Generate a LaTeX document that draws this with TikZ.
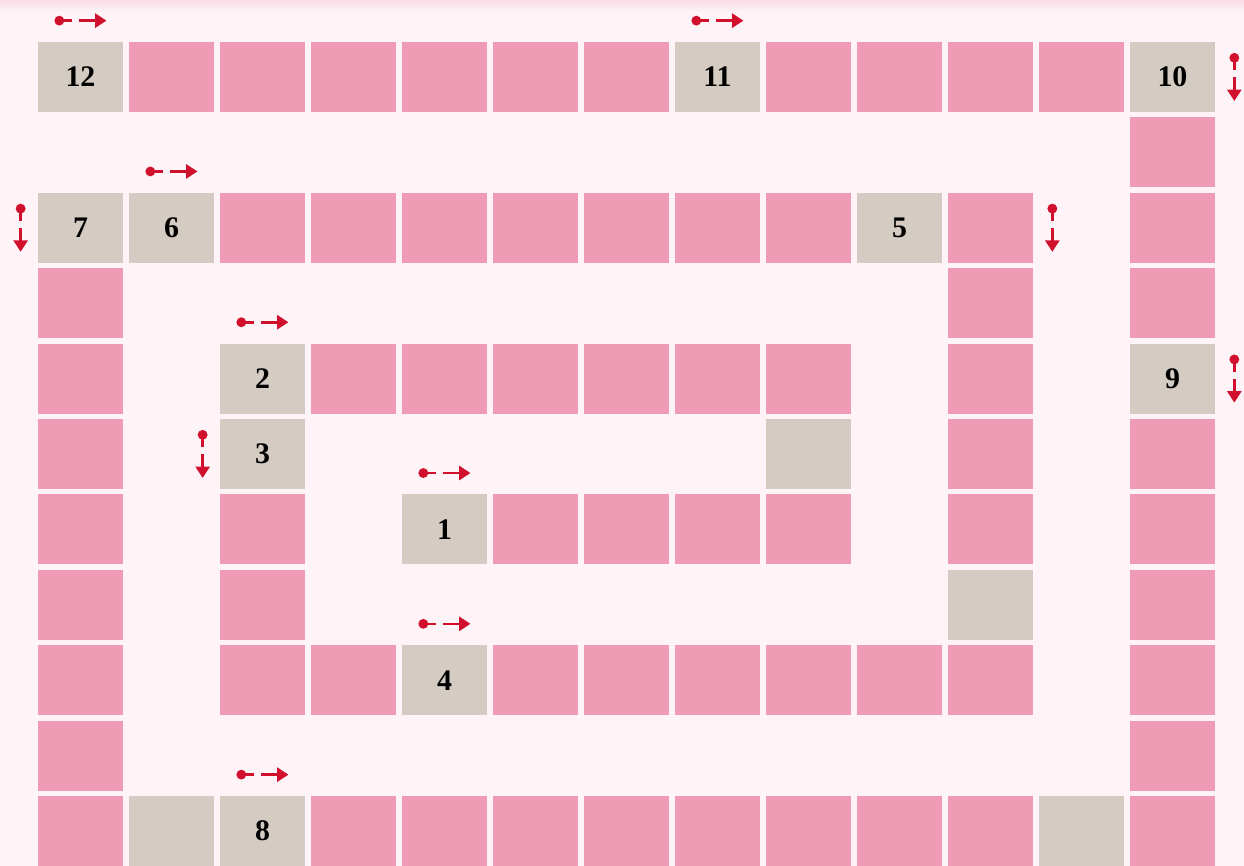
\documentclass[tikz,border=0pt]{standalone}
\usepackage{fontspec}
\setmainfont{Liberation Serif}
\usetikzlibrary{arrows.meta}

\definecolor{tilepink}{HTML}{F09BB5}
\definecolor{tilegray}{HTML}{D4CBC2}
\definecolor{markred}{HTML}{D0102C}
\definecolor{boardbg}{HTML}{FEF4F7}
\definecolor{boardtop}{HTML}{FADCE6}

\begin{document}
\begin{tikzpicture}[
        x=1.82cm, y=-1.508cm,
        tile/.style={minimum width=1.7cm, minimum height=1.4cm, inner sep=0pt},
        pinktile/.style={tile, fill=tilepink},
        graytile/.style={tile, fill=tilegray, font=\bfseries\fontsize{17}{17}\selectfont},
        move/.style={markred, line width=1.5pt, dash pattern=on 5pt off 4pt on 30pt,
            {Circle[length=5.5pt]}-{Triangle[length=6.5pt,width=8pt]}}
        ]
        \useasboundingbox (-0.8846,-1.0212) rectangle (12.786,10.464);
        \fill[boardbg] (-0.8846,-1.0212) rectangle (12.786,10.464);
        \shade[top color=boardtop, bottom color=boardbg] (-0.8846,-1.0212) rectangle (12.786,-0.86);
        % pink squares, row by row
        \foreach \r/\cols in {0/{1,2,3,4,5,6,8,9,10,11}, 1/{12}, 2/{2,3,4,5,6,7,8,10,12},
                3/{0,10,12}, 4/{0,3,4,5,6,7,8,10}, 5/{0,10,12}, 6/{0,2,5,6,7,8,10,12},
                7/{0,2,12}, 8/{0,2,3,5,6,7,8,9,10,12}, 9/{0,12}, 10/{0,3,4,5,6,7,8,9,10,12}} {
            \foreach \c in \cols {
                \node[pinktile] (p\r-\c) at (\c,\r) {};
            }
        }
        % grey squares
        \foreach \lab/\c/\r in {12/0/0, 11/7/0, 10/12/0, 7/0/2, 6/1/2, 5/9/2,
                2/2/4, 9/12/4, 3/2/5, 1/4/6, 4/4/8, 8/2/10} {
            \node[graytile] (n\lab) at (\c,\r) {\lab};
        }
        \foreach \c/\r in {8/5, 10/7, 1/10, 11/10} {
            \node[graytile] (g\r-\c) at (\c,\r) {};
        }
        % moves
        \foreach \n in {n12,n11,n6,n2,n1,n4,n8} {
            \draw[move] ([xshift=-0.52cm,yshift=0.42cm]\n.north) -- ([xshift=0.52cm,yshift=0.42cm]\n.north);
        }
        \foreach \n in {n10,n9,p2-10} {
            \draw[move] ([xshift=0.38cm,yshift=0.48cm]\n.east) -- ([xshift=0.38cm,yshift=-0.48cm]\n.east);
        }
        \foreach \n in {n7,n3} {
            \draw[move] ([xshift=-0.34cm,yshift=0.48cm]\n.west) -- ([xshift=-0.34cm,yshift=-0.48cm]\n.west);
        }
    \end{tikzpicture}
\end{document}
